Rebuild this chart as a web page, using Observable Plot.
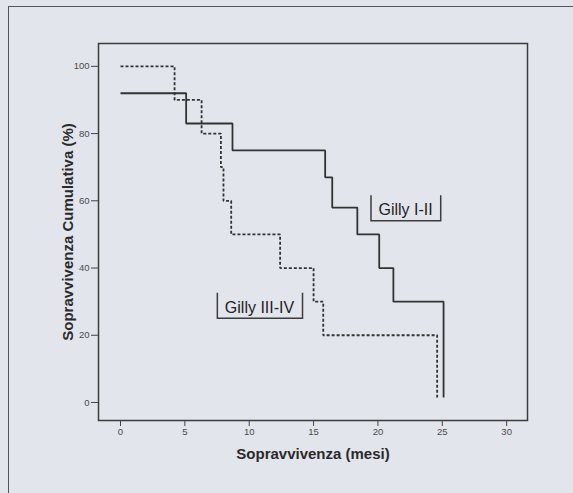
<!DOCTYPE html>
<html><head><meta charset="utf-8">
<script src="https://cdn.jsdelivr.net/npm/d3@7"></script>
<script src="https://cdn.jsdelivr.net/npm/@observablehq/plot@0.6"></script>
<style>
html,body{margin:0;padding:0;background:#e3e5ec;width:573px;height:493px;overflow:hidden;}
#page{position:absolute;left:8px;top:6px;width:600px;height:520px;border-left:1.5px solid #555;border-top:1.5px solid #555;}
#chart{position:absolute;left:0;top:0;}
</style></head><body><div id="page"></div><div id="chart"></div>
<script>
// Series names
const seriesNames = ["Gilly I-II", "Gilly III-IV"];
// Gilly I-II (solid): event times (months) and cumulative survival (%)
const timesI = [0, 5.1, 8.7, 15.9, 16.45, 18.4, 20.1, 21.2, 25.1];
const survI  = [92, 83, 75, 67, 58, 50, 40, 30, 1.5];
// Gilly III-IV (dashed)
const timesIII = [0, 4.2, 6.3, 7.8, 8.0, 8.6, 12.4, 15.0, 15.75, 24.6];
const survIII  = [100, 90, 80, 70, 60, 50, 40, 30, 20, 1.5];
// Ticks and titles
const xTicks = [0, 5, 10, 15, 20, 25, 30];
const yTicks = [0, 20, 40, 60, 80, 100];
const xTitle = "Sopravvivenza (mesi)";
const yTitle = "Sopravvivenza Cumulativa (%)";

const rowsI = timesI.map((t, i) => ({t, s: survI[i], g: seriesNames[0]}));
const rowsIII = timesIII.map((t, i) => ({t, s: survIII[i], g: seriesNames[1]}));
const labels = [
  {g: seriesNames[0], t: 22.15, s: 57.2},
  {g: seriesNames[1], t: 10.8, s: 28.2}
];

const font = "'Liberation Sans', Arial, sans-serif";
const plot = Plot.plot({
  width: 573, height: 493,
  marginLeft: 98, marginTop: 43, marginRight: 46, marginBottom: 73,
  style: {background: "transparent", fontFamily: font, color: "#444"},
  x: {domain: [-1.71, 31.62]},
  y: {domain: [-5.36, 106.8]},
  marks: [
    Plot.frame({stroke: "#3c3c3c", strokeWidth: 1.5}),
    Plot.axisX({ticks: xTicks, tickSize: 6, tickPadding: 2, fontSize: 9.5, label: null, stroke: "#444", fill: "#4a4a4a"}),
    Plot.axisY({ticks: yTicks, tickSize: 7, tickPadding: 2, fontSize: 9.5, label: null, stroke: "#444", fill: "#4a4a4a"}),
    Plot.line(rowsI, {x: "t", y: "s", curve: "step-after", stroke: "#333", strokeWidth: 1.8, strokeLinecap: "butt", strokeLinejoin: "miter"}),
    Plot.line(rowsIII, {x: "t", y: "s", curve: "step-after", stroke: "#333", strokeWidth: 1.8, strokeDasharray: "3,2", strokeLinecap: "butt", strokeLinejoin: "miter"}),
    Plot.text([xTitle], {text: d => d, frameAnchor: "bottom", dy: 38, fontWeight: "bold", fontSize: 15, fill: "#2a2a2a"}),
    Plot.text([yTitle], {text: d => d, frameAnchor: "left", textAnchor: "middle", dx: -30, rotate: -90, fontWeight: "bold", fontSize: 15, fill: "#2a2a2a"}),
    Plot.text(labels, {x: "t", y: "s", text: "g", fontSize: 16, fill: "#222"})
  ]
});
document.getElementById("chart").appendChild(plot);

// Open boxes (left, bottom, right sides) around the curve labels
const svg = d3.select(plot);
const sr = plot.getBoundingClientRect();
svg.selectAll("text").filter(function() { return seriesNames.includes(this.textContent); }).each(function() {
  const bb = this.getBoundingClientRect();
  const x0 = bb.left - sr.left, y0 = bb.top - sr.top;
  const l = x0 - 7.5, r = x0 + bb.width + 8, t = y0 - 6, b = y0 + bb.height + 2.5;
  svg.append("path")
    .attr("d", `M${l},${t}L${l},${b}L${r},${b}L${r},${t}`)
    .attr("fill", "none").attr("stroke", "#3c3c3c").attr("stroke-width", 1.5);
});
</script></body></html>
